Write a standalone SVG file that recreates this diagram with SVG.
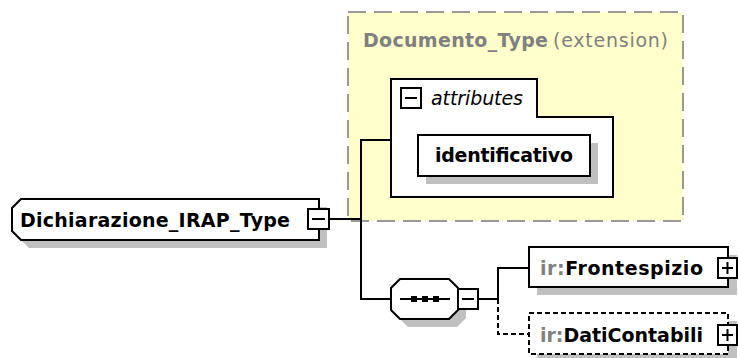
<svg xmlns="http://www.w3.org/2000/svg" width="738" height="358" viewBox="0 0 738 358">
<style>
text{font-family:"DejaVu Sans","Liberation Sans",sans-serif;font-size:19px}
.b{font-weight:bold;fill:#000}
.g{fill:#808080}
.box{fill:#fff;stroke:#000;stroke-width:2}
.sh{fill:#c0c0c0}
.ln{fill:none;stroke:#000;stroke-width:2}
.dl{fill:none;stroke:#000;stroke-width:2;stroke-dasharray:5 3}
.btn{fill:#fff;stroke:#000;stroke-width:2}
</style>
<rect width="738" height="358" fill="#fff"/>
<g id="node-documento-type">
<rect x="348" y="12" width="335" height="209" fill="#ffffcc" stroke="#999" stroke-width="2" stroke-dasharray="18 8"/>
<text x="363" y="47" class="g" font-weight="bold" textLength="185">Documento_Type</text>
<text x="553" y="47" class="g" textLength="115">(extension)</text>
</g>
<g id="node-attributes">
<polygon class="box" points="391,79 537,79 537,117 613,117 613,197 391,197"/>
<rect class="btn" x="401" y="88" width="20" height="20"/>
<line class="ln" x1="405" y1="98" x2="417" y2="98"/>
<text x="431" y="105" font-style="italic" textLength="92">attributes</text>
</g>
<g id="node-identificativo">
<rect class="sh" x="426" y="143" width="172" height="41"/>
<rect class="box" x="418" y="135" width="172" height="41"/>
<text x="435" y="162" class="b" textLength="138">identificativo</text>
</g>
<g id="connectors">
<line class="ln" x1="329" y1="219" x2="361" y2="219"/>
<polyline class="ln" points="391,140 361,140 361,299 391,299"/>
<line class="ln" x1="478" y1="299" x2="498" y2="299"/>
<polyline class="ln" points="498,299 498,268 529,268"/>
<polyline class="dl" points="498,299 498,334 529,334"/>
</g>
<g id="node-dichiarazione">
<polygon class="sh" points="29,207 327,207 327,248 29,248 20,239 20,216"/>
<polygon class="box" points="21,199 319,199 319,240 21,240 12,231 12,208"/>
<text x="20" y="227" class="b" textLength="270">Dichiarazione_IRAP_Type</text>
<rect class="btn" x="308" y="209" width="21" height="20"/>
<line class="ln" x1="312" y1="219" x2="325" y2="219"/>
</g>
<g id="node-sequence">
<polygon class="sh" points="408,287 457,287 466,296 466,318 457,327 408,327 399,318 399,296"/>
<polygon class="box" points="400,279 449,279 458,288 458,310 449,319 400,319 391,310 391,288"/>
<line class="ln" x1="400" y1="299" x2="450" y2="299"/>
<rect x="411" y="296" width="6" height="6"/>
<rect x="422" y="296" width="6" height="6"/>
<rect x="433" y="296" width="6" height="6"/>
<rect class="btn" x="458" y="289" width="20" height="20"/>
<line class="ln" x1="462" y1="299" x2="474" y2="299"/>
</g>
<g id="node-frontespizio">
<rect class="sh" x="537" y="255" width="200" height="40"/>
<rect class="box" x="529" y="247" width="199" height="40"/>
<text x="540" y="275" class="b" textLength="163"><tspan class="g">ir:</tspan>Frontespizio</text>
<rect class="btn" x="718" y="258" width="19" height="20"/>
<line class="ln" x1="722" y1="268" x2="733" y2="268"/>
<line class="ln" x1="727.5" y1="262" x2="727.5" y2="274"/>
</g>
<g id="node-daticontabili">
<rect class="sh" x="537" y="321" width="200" height="41"/>
<rect x="529" y="313" width="199" height="41" fill="#fff" stroke="#000" stroke-width="2" stroke-dasharray="5 3"/>
<text x="540" y="342" class="b" textLength="163"><tspan class="g">ir:</tspan>DatiContabili</text>
<rect class="btn" x="718" y="325" width="19" height="20"/>
<line class="ln" x1="722" y1="335" x2="733" y2="335"/>
<line class="ln" x1="727.5" y1="329" x2="727.5" y2="341"/>
</g>
</svg>
